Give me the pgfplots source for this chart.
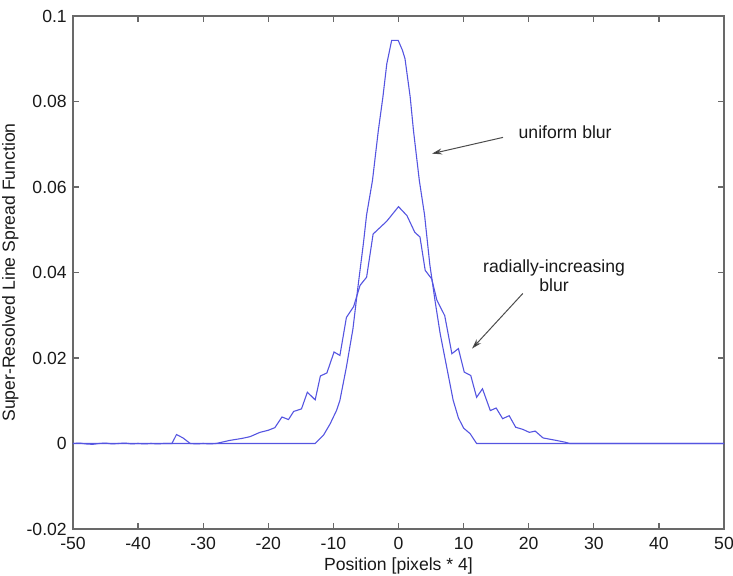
\documentclass[border=0pt]{standalone}
\usepackage{fontspec}
\setmainfont{Liberation Sans}
\usepackage{pgfplots}
\pgfplotsset{compat=1.18}
\usetikzlibrary{arrows.meta}
\definecolor{lsf}{RGB}{85,85,225}
\definecolor{axgray}{RGB}{105,105,105}
\begin{document}
\fontsize{8.8}{9.6}\selectfont
\begin{tikzpicture}
\begin{axis}[
  scale only axis, width=325.5pt, height=256.5pt,
  xmin=-50, xmax=50, ymin=-0.02, ymax=0.1,
  xtick={-50,-40,-30,-20,-10,0,10,20,30,40,50},
  xticklabels={-50,-40,-30,-20,-10,0,10,20,30,40,50},
  ytick={-0.02,0,0.02,0.04,0.06,0.08,0.1},
  yticklabels={-0.02,0,0.02,0.04,0.06,0.08,0.1},
  scaled y ticks=false,
  /pgf/number format/assume math mode=true,
  tick align=inside, major tick length=3pt,
  axis line style={axgray, line width=0.6pt},
  tick style={axgray, line width=0.6pt},
  tick label style={font=\fontsize{8.8}{9.6}\selectfont, text=black!90},
  label style={font=\fontsize{8.8}{9.6}\selectfont, text=black!90},
  xticklabel style={yshift=-1pt},
  xlabel={Position [pixels * 4]},
  ylabel={Super-Resolved Line Spread Function},
  xlabel style={yshift=2pt},
  ylabel style={yshift=-2pt},
  clip=true,
]
% uniform blur
\addplot[lsf, line width=0.55pt] coordinates {
(-50,0) (-13,0) (-12.8,0) (-11.5,0.0020) (-10.5,0.0046) (-9.5,0.0078) (-9.0,0.0101)
(-8.0,0.0179) (-7.0,0.0268) (-6.2,0.0370) (-5.4,0.0467) (-4.9,0.0535) (-4.0,0.0615)
(-3.1,0.0732) (-2.4,0.0810) (-1.8,0.0888) (-1.05,0.0943) (-0.05,0.0943) (0.6,0.0920)
(1.0,0.0900) (1.8,0.0810) (2.3,0.0732) (3.2,0.0615) (4.0,0.0535) (4.8,0.0420)
(5.6,0.0335) (6.4,0.0257) (7.4,0.0179) (8.4,0.0101) (9.2,0.0060) (10.0,0.0036)
(11.0,0.0023) (12.0,0) (50,0)
};
% radially-increasing blur
\addplot[lsf, line width=0.55pt] coordinates {
(-50,0) (-49,0.0001) (-48,-0.0001) (-47,-0.0002) (-46,0) (-45,0.0001) (-44,-0.0001)
(-43,0) (-42,0.0001) (-41,-0.0001) (-40,0) (-39,-0.0001) (-38,0) (-37,-0.0001)
(-36,0) (-34.8,0) (-34.1,0.0021) (-33.1,0.0013) (-32,0) (-31,-0.0001) (-30,0)
(-29,-0.0001) (-28,0) (-26,0.0007) (-24,0.0012) (-22.8,0.0016) (-21.3,0.0026)
(-20,0.0031) (-19.0,0.0037) (-17.9,0.0062) (-16.9,0.0056) (-16.1,0.0075)
(-14.9,0.0081) (-14.0,0.0120) (-12.8,0.0102) (-12.0,0.0158) (-11.0,0.0165)
(-9.9,0.0214) (-9.0,0.0206) (-8.0,0.0295) (-6.9,0.0320) (-5.9,0.0370) (-4.9,0.0389)
(-3.9,0.0490) (-1.8,0.0520) (0,0.0554) (1.3,0.0533) (2.5,0.0494) (3.3,0.0483)
(4.1,0.0405) (5.1,0.0385) (5.9,0.0335) (7.1,0.0299) (8.2,0.0210) (9.2,0.0222)
(10.1,0.0167) (11.1,0.0159) (12.0,0.0108) (12.9,0.0128) (14.1,0.0077) (15.0,0.0083)
(16.0,0.0058) (17.0,0.0065) (18.0,0.0038) (19.1,0.0033) (20.1,0.0026) (21.0,0.0029)
(22.2,0.0013) (24.3,0.0007) (25.6,0.0003) (26.3,0) (50,0)
};
\node[text=black!90] at (axis cs:25.6,0.0727) {uniform blur};
\draw[black!70, line width=0.5pt, -{Stealth[length=5pt,width=3pt,fill=black]}] (axis cs:16.05,0.0716) -- (axis cs:5.15,0.0678);
\node[text=black!90, align=center] at (axis cs:23.9,0.0393) {radially-increasing\\blur};
\draw[black!70, line width=0.5pt, -{Stealth[length=5pt,width=3pt,fill=black]}] (axis cs:19.1,0.0351) -- (axis cs:11.3,0.0222);
\end{axis}
\pgfresetboundingbox
\path[use as bounding box] ([xshift=-36.5pt,yshift=-23.5pt]current axis.south west) rectangle ([xshift=4.5pt,yshift=8pt]current axis.north east);
\end{tikzpicture}
\end{document}
